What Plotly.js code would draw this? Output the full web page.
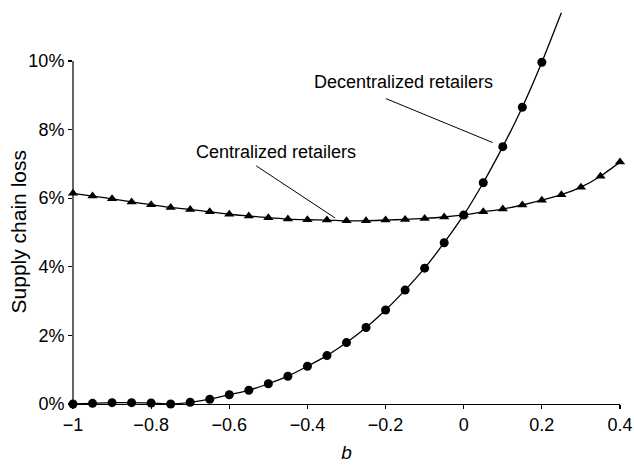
<!DOCTYPE html>
<html>
<head>
<meta charset="utf-8">
<script src="https://cdn.plot.ly/plotly-3.0.1.min.js"></script>
<style>html,body{margin:0;padding:0;background:#fff;}#chart{width:634px;height:465px;}</style>
</head>
<body>
<div id="chart"></div>
<script>
// b values
const bDecentral = [-1, -0.95, -0.9, -0.85, -0.8, -0.75, -0.7, -0.65, -0.6, -0.55, -0.5, -0.45, -0.4,
  -0.35, -0.3, -0.25, -0.2, -0.15, -0.1, -0.05, 0, 0.05, 0.1, 0.15, 0.2, 0.25];
const lossDecentral = [0.0000, 0.0002, 0.0004, 0.0004, 0.0003, 0.0000, 0.0005, 0.0014, 0.0027, 0.0040, 0.0059, 0.0081, 0.0110,
  0.0141, 0.0179, 0.0223, 0.0274, 0.0332, 0.0396, 0.0470, 0.0551, 0.0645, 0.0750, 0.0865, 0.0996, 0.1140];
const markerDecentral = [1,1,1,1,1,1,1,1,1,1,1,1,1,1,1,1,1,1,1,1,1,1,1,1,1,0];

const bCentral = [-1, -0.95, -0.9, -0.85, -0.8, -0.75, -0.7, -0.65, -0.6, -0.55, -0.5, -0.45, -0.4,
  -0.35, -0.3, -0.25, -0.2, -0.15, -0.1, -0.05, 0, 0.05, 0.1, 0.15, 0.2, 0.25, 0.3, 0.35, 0.4];
const lossCentral = [0.0614, 0.0606, 0.0598, 0.0589, 0.0581, 0.0573, 0.0567, 0.0560, 0.0553, 0.0548, 0.0543, 0.0539, 0.0537,
  0.0536, 0.0534, 0.0534, 0.0536, 0.0538, 0.0541, 0.0545, 0.0551, 0.0560, 0.0568, 0.0580, 0.0594, 0.0610, 0.0632, 0.0664, 0.0705];

const yTicks = [0, 0.02, 0.04, 0.06, 0.08, 0.10];
const xTicks = [-1, -0.8, -0.6, -0.4, -0.2, 0, 0.2, 0.4];
const xTickText = ['\u22121', '\u22120.8', '\u22120.6', '\u22120.4', '\u22120.2', '0', '0.2', '0.4'];
const yTickText = ['0%', '2%', '4%', '6%', '8%', '10%'];

const FONT = 'Liberation Sans, Arial, Helvetica, sans-serif';

const traces = [
  {
    x: bCentral, y: lossCentral, type: 'scatter', mode: 'lines+markers',
    line: {color: '#000', width: 1.3, shape: 'spline', smoothing: 0.6},
    marker: {symbol: 'triangle-up', size: 9, color: '#000', opacity: 1, line: {width: 0}},
    name: 'Centralized retailers', cliponaxis: false
  },
  {
    x: bDecentral, y: lossDecentral, type: 'scatter', mode: 'lines+markers',
    line: {color: '#000', width: 1.3, shape: 'spline', smoothing: 0.6},
    marker: {symbol: 'circle', size: markerDecentral.map(v => v ? 9 : 0), color: '#000', opacity: 1, line: {width: 0}},
    name: 'Decentralized retailers', cliponaxis: false
  }
];

const layout = {
  width: 634, height: 465,
  margin: {l: 73, r: 14, t: 6, b: 61},
  paper_bgcolor: '#fff', plot_bgcolor: '#fff',
  showlegend: false,
  font: {family: FONT, size: 18, color: '#000'},
  xaxis: {
    range: [-1, 0.4], tickvals: xTicks, ticktext: xTickText,
    showgrid: false, zeroline: false, showline: true, linecolor: '#000', linewidth: 1.2,
    ticks: 'outside', ticklen: 4, tickcolor: '#000', tickwidth: 1.2,
    tickfont: {family: FONT, size: 18, color: '#000'},
    title: {text: '<i>b</i>', font: {family: FONT, size: 19, color: '#000'}, standoff: 12}
  },
  yaxis: {
    range: [0, 0.116], tickvals: yTicks, ticktext: yTickText,
    showgrid: false, zeroline: false, showline: false,
    ticks: 'outside', ticklen: 4, tickcolor: '#000', tickwidth: 1.2,
    tickfont: {family: FONT, size: 18, color: '#000'}
  },
  shapes: [
    {type: 'line', xref: 'paper', yref: 'y', x0: 0, x1: 0, y0: 0, y1: 0.10, line: {color: '#000', width: 1.2}},
    {type: 'line', xref: 'x', yref: 'y', x0: -0.531, y0: 0.0694, x1: -0.329, y1: 0.0542, line: {color: '#000', width: 1}},
    {type: 'line', xref: 'x', yref: 'y', x0: -0.199, y0: 0.0890, x1: 0.074, y1: 0.0762, line: {color: '#000', width: 1}}
  ],
  annotations: [
    {x: -0.48, y: 0.0735, xref: 'x', yref: 'y', text: 'Centralized retailers', showarrow: false,
     font: {family: FONT, size: 18, color: '#000'}},
    {x: -0.153, y: 0.0939, xref: 'x', yref: 'y', text: 'Decentralized retailers', showarrow: false,
     font: {family: FONT, size: 18, color: '#000'}},
    {x: 18, xref: 'paper', xanchor: 'center', y: 0.05, yref: 'y', yanchor: 'middle', textangle: -90,
     text: 'Supply chain loss', showarrow: false, font: {family: FONT, size: 21, color: '#000'}}
  ]
};
// y-axis title position: convert 18px from left edge into paper coordinates
layout.annotations[2].x = (18 - layout.margin.l) / (layout.width - layout.margin.l - layout.margin.r);

Plotly.newPlot('chart', traces, layout, {displayModeBar: false, staticPlot: true});
</script>
</body>
</html>
